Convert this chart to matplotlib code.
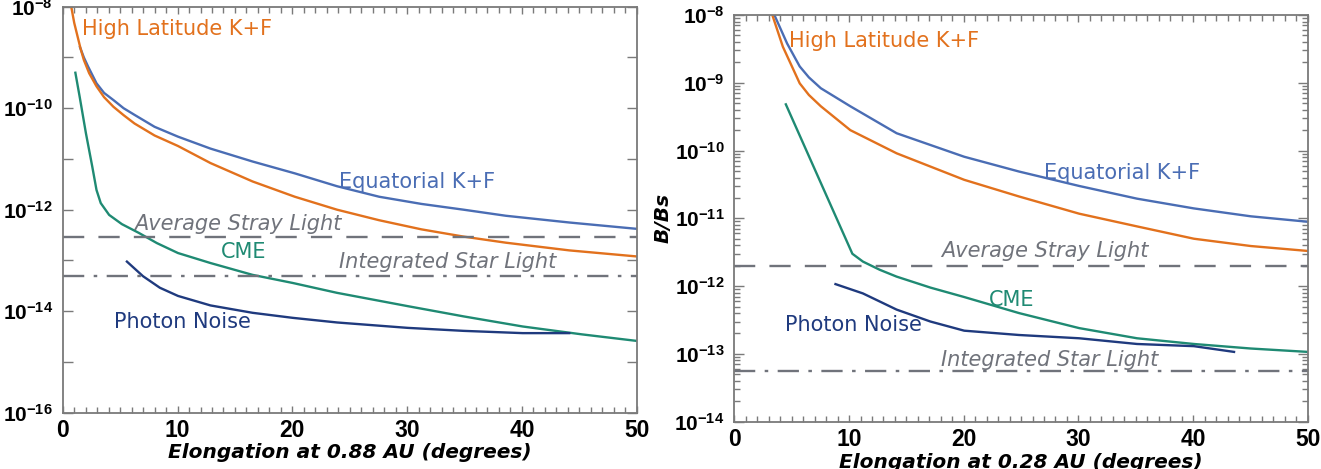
import numpy as np
import matplotlib
matplotlib.use("Agg")
import matplotlib.pyplot as plt
from matplotlib.ticker import FixedLocator, FuncFormatter, LogLocator, MultipleLocator, NullFormatter

plt.rcParams['font.family'] = ['DejaVu Sans']
plt.rcParams['mathtext.fontset'] = 'custom'
plt.rcParams['mathtext.rm'] = 'Liberation Sans'
plt.rcParams['mathtext.bf'] = 'Liberation Sans:bold'
plt.rcParams['mathtext.it'] = 'Liberation Sans:italic'

# ---- left panel: 0.88 AU ----
hl_x_88 = [0.74, 1.0, 1.29, 1.55, 1.84, 2.3, 2.94, 3.6, 4.41, 5.3, 6.25, 8.0, 10.04, 12.87, 16.54, 20.22, 23.90, 27.57, 31.25, 34.93, 38.60, 44.12, 50.0]
hl_y_88 = [1.0e-8, 4.8e-9, 2.6e-9, 1.5e-9, 8.9e-10, 4.9e-10, 2.7e-10, 1.65e-10, 1.07e-10, 7.3e-11, 5.0e-11, 2.9e-11, 1.8e-11, 8.3e-12, 3.6e-12, 1.8e-12, 1.0e-12, 6.2e-13, 4.1e-13, 2.95e-13, 2.24e-13, 1.58e-13, 1.2e-13]

eq_x_88 = [1.5, 1.84, 2.21, 2.94, 3.6, 4.41, 5.3, 6.25, 8.0, 10.04, 12.87, 16.54, 20.22, 23.90, 27.57, 31.25, 34.93, 38.60, 44.12, 50.0]
eq_y_88 = [1.6e-9, 1.0e-9, 6.6e-10, 3.1e-10, 2.0e-10, 1.45e-10, 1.0e-10, 7.4e-11, 4.3e-11, 2.75e-11, 1.6e-11, 8.9e-12, 5.2e-12, 2.9e-12, 1.8e-12, 1.3e-12, 1.0e-12, 7.6e-13, 5.6e-13, 4.2e-13]

cme_x_88 = [1.10, 1.47, 2.02, 2.57, 2.94, 3.31, 4.04, 5.15, 6.62, 8.2, 10.04, 12.87, 16.54, 20.04, 23.90, 30.04, 34.93, 40.07, 45.22, 50.0]
cme_y_88 = [5.0e-10, 1.7e-10, 3.2e-11, 7.1e-12, 2.45e-12, 1.35e-12, 7.9e-13, 5.2e-13, 3.5e-13, 2.2e-13, 1.4e-13, 8.9e-14, 5.2e-14, 3.6e-14, 2.3e-14, 1.26e-14, 7.9e-15, 5.0e-15, 3.5e-15, 2.6e-15]

pn_x_88 = [5.59, 6.99, 8.46, 10.04, 12.87, 16.54, 20.04, 23.90, 30.04, 34.93, 40.07, 44.12]
pn_y_88 = [9.5e-14, 4.9e-14, 2.9e-14, 2.0e-14, 1.3e-14, 9.3e-15, 7.4e-15, 6.0e-15, 4.7e-15, 4.1e-15, 3.7e-15, 3.7e-15]

stray_88 = 2.9e-13
star_88 = 5.0e-14

# ---- right panel: 0.28 AU ----
hl_x_28 = [3.31, 4.23, 5.70, 6.5, 7.54, 10.11, 14.15, 20.04, 24.82, 30.07, 35.11, 40.07, 45.04, 50.0]
hl_y_28 = [1.0e-8, 3.4e-9, 9.8e-10, 6.6e-10, 4.5e-10, 2.0e-10, 9.1e-11, 3.7e-11, 2.1e-11, 1.17e-11, 7.6e-12, 5.0e-12, 3.9e-12, 3.3e-12]

eq_x_28 = [3.49, 4.60, 5.70, 6.5, 7.54, 10.11, 14.15, 20.04, 24.82, 30.07, 35.11, 40.07, 45.04, 50.0]
eq_y_28 = [1.0e-8, 3.8e-9, 1.74e-9, 1.2e-9, 8.3e-10, 4.5e-10, 1.8e-10, 8.1e-11, 4.9e-11, 3.0e-11, 1.95e-11, 1.4e-11, 1.07e-11, 8.9e-12]

cme_x_28 = [4.49, 10.29, 11.21, 12.68, 14.15, 17.10, 20.04, 24.82, 30.07, 35.11, 40.07, 45.04, 50.0]
cme_y_28 = [4.8e-10, 3.0e-12, 2.3e-12, 1.74e-12, 1.38e-12, 9.5e-13, 6.9e-13, 4.0e-13, 2.4e-13, 1.7e-13, 1.4e-13, 1.2e-13, 1.07e-13]

pn_x_28 = [8.82, 11.21, 14.15, 17.10, 20.04, 24.82, 30.07, 35.11, 40.07, 43.57]
pn_y_28 = [1.07e-12, 7.8e-13, 4.5e-13, 3.0e-13, 2.2e-13, 1.9e-13, 1.7e-13, 1.4e-13, 1.3e-13, 1.07e-13]

stray_28 = 2.0e-12
star_28 = 5.5e-14

ORANGE = '#e2711d'
BLUE = '#4a6db4'
TEAL = '#1f8a73'
NAVY = '#1f3a7e'
GRAY = '#70737b'
FRAME = '#7a7a7a'


def exp_fmt(v, pos):
    e = int(round(np.log10(v)))
    return r'$\mathbf{10^{%d}}$' % e


def style_axes(ax, ylo, every_decade):
    ax.set_yscale('log')
    ax.set_xlim(0, 50)
    ax.set_ylim(ylo, 1e-8)
    ax.xaxis.set_major_locator(MultipleLocator(10))
    ax.xaxis.set_minor_locator(MultipleLocator(1))
    if every_decade:
        ax.yaxis.set_major_locator(LogLocator(base=10, numticks=20))
        ax.yaxis.set_minor_locator(LogLocator(base=10, subs=np.arange(2, 10), numticks=20))
    else:
        ax.yaxis.set_major_locator(LogLocator(base=100, numticks=20))
        odd = [10.0 ** k for k in range(-15, -8, 2)]
        ax.yaxis.set_minor_locator(FixedLocator(odd))
    ax.yaxis.set_major_formatter(FuncFormatter(exp_fmt))
    ax.yaxis.set_minor_formatter(NullFormatter())
    ax.tick_params(which='both', direction='in', top=True, right=True, color=FRAME, width=1.0)
    ax.tick_params(axis='y', which='major', length=7, labelsize=15, pad=7)
    ax.tick_params(axis='y', which='minor', length=7 if not every_decade else 4)
    ax.tick_params(axis='x', which='major', length=5, labelsize=16.5, pad=4.5,
                   labelfontfamily='Liberation Sans')
    ax.tick_params(axis='x', which='minor', length=4)
    for lbl in ax.get_xticklabels():
        lbl.set_fontweight('bold')
    for s in ax.spines.values():
        s.set_color(FRAME)
        s.set_linewidth(1.3)


fig = plt.figure(figsize=(13.21, 4.69), dpi=100)
ax1 = fig.add_axes([0.0475, 0.120, 0.4345, 0.8657])
ax2 = fig.add_axes([0.5559, 0.1009, 0.4341, 0.8672])

lw = 1.7
dash = (0, (9, 6))
dashdot = (0, (9, 4, 1.5, 4))
tfs = 15
lfs = 14.5

# left
ax1.plot(eq_x_88, eq_y_88, color=BLUE, lw=lw)
ax1.plot(hl_x_88, hl_y_88, color=ORANGE, lw=lw)
ax1.plot(cme_x_88, cme_y_88, color=TEAL, lw=lw)
ax1.plot(pn_x_88, pn_y_88, color=NAVY, lw=lw)
ax1.axhline(stray_88, color=GRAY, lw=lw, linestyle=dash)
ax1.axhline(star_88, color=GRAY, lw=lw, linestyle=dashdot)
style_axes(ax1, 1e-16, False)

ax1.text(1.65, 3.7e-9, 'High Latitude K+F', color=ORANGE, fontsize=tfs, va='center')
ax1.text(24.1, 3.5e-12, 'Equatorial K+F', color=BLUE, fontsize=tfs, va='center')
ax1.text(6.25, 5.2e-13, 'Average Stray Light', color=GRAY, fontsize=tfs, style='italic', va='center')
ax1.text(13.8, 1.5e-13, 'CME', color=TEAL, fontsize=tfs, va='center')
ax1.text(24.1, 9.3e-14, 'Integrated Star Light', color=GRAY, fontsize=tfs, style='italic', va='center')
ax1.text(4.5, 6.2e-15, 'Photon Noise', color=NAVY, fontsize=tfs, va='center')
ax1.set_xlabel('Elongation at 0.88 AU (degrees)', fontsize=lfs, fontweight='bold', style='italic')
ax1.xaxis.set_label_coords(0.5, -0.075)
ax1.set_ylabel('B/Bs', fontsize=lfs, fontweight='bold', style='italic')
ax1.yaxis.set_label_coords(-0.104, 0.5)

# right
ax2.plot(eq_x_28, eq_y_28, color=BLUE, lw=lw)
ax2.plot(hl_x_28, hl_y_28, color=ORANGE, lw=lw)
ax2.plot(cme_x_28, cme_y_28, color=TEAL, lw=lw)
ax2.plot(pn_x_28, pn_y_28, color=NAVY, lw=lw)
ax2.axhline(stray_28, color=GRAY, lw=lw, linestyle=dash)
ax2.axhline(star_28, color=GRAY, lw=lw, linestyle=dashdot)
style_axes(ax2, 1e-14, True)

ax2.text(4.8, 4.1e-9, 'High Latitude K+F', color=ORANGE, fontsize=tfs, va='center')
ax2.text(27.0, 4.7e-11, 'Equatorial K+F', color=BLUE, fontsize=tfs, va='center')
ax2.text(18.0, 3.3e-12, 'Average Stray Light', color=GRAY, fontsize=tfs, style='italic', va='center')
ax2.text(22.2, 6.3e-13, 'CME', color=TEAL, fontsize=tfs, va='center')
ax2.text(4.4, 2.7e-13, 'Photon Noise', color=NAVY, fontsize=tfs, va='center')
ax2.text(18.0, 8.1e-14, 'Integrated Star Light', color=GRAY, fontsize=tfs, style='italic', va='center')
ax2.set_xlabel('Elongation at 0.28 AU (degrees)', fontsize=lfs, fontweight='bold', style='italic')
ax2.xaxis.set_label_coords(0.5, -0.077)
ax2.set_ylabel('B/Bs', fontsize=lfs, fontweight='bold', style='italic')
ax2.yaxis.set_label_coords(-0.107, 0.5)

fig.savefig('out.png', dpi=100)
